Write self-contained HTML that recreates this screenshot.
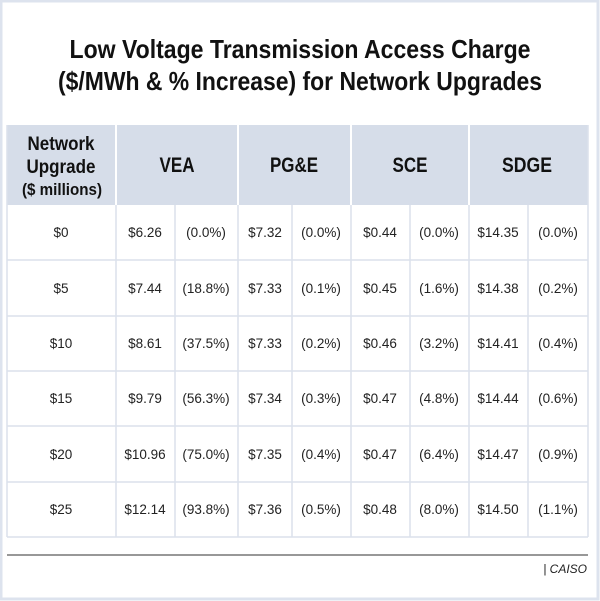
<!DOCTYPE html>
<html><head><meta charset="utf-8"><style>
html,body{margin:0;padding:0;background:#fff}
svg{display:block}
</style></head><body>
<svg width="600" height="601" xmlns="http://www.w3.org/2000/svg" font-family="Liberation Sans, sans-serif">
<rect x="1" y="1" width="597" height="598" fill="#fff" stroke="#dde3ee" stroke-width="3"/>
<text x="300" y="58" text-anchor="middle" font-size="26" font-weight="bold" fill="#111" textLength="461" lengthAdjust="spacingAndGlyphs">Low Voltage Transmission Access Charge</text>
<text x="300" y="90" text-anchor="middle" font-size="26" font-weight="bold" fill="#111" textLength="484" lengthAdjust="spacingAndGlyphs">($/MWh &amp; % Increase) for Network Upgrades</text>
<rect x="7" y="125" width="581" height="80" fill="#d6dde9"/>
<g stroke="#dbe1ec" stroke-width="1.5">
<line x1="7" y1="125" x2="7" y2="537"/><line x1="588" y1="125" x2="588" y2="537"/>
<line x1="116" y1="125" x2="116" y2="537"/><line x1="238" y1="125" x2="238" y2="537"/>
<line x1="351" y1="125" x2="351" y2="537"/><line x1="469" y1="125" x2="469" y2="537"/>
<line x1="175" y1="205" x2="175" y2="537"/><line x1="292" y1="205" x2="292" y2="537"/>
<line x1="410" y1="205" x2="410" y2="537"/><line x1="528" y1="205" x2="528" y2="537"/>
<line x1="7" y1="260" x2="588" y2="260"/><line x1="7" y1="316" x2="588" y2="316"/>
<line x1="7" y1="371" x2="588" y2="371"/><line x1="7" y1="426" x2="588" y2="426"/>
<line x1="7" y1="482" x2="588" y2="482"/><line x1="7" y1="537" x2="588" y2="537"/>
</g>
<g stroke="#fff" stroke-width="2"><line x1="116" y1="125" x2="116" y2="205"/><line x1="238" y1="125" x2="238" y2="205"/><line x1="351" y1="125" x2="351" y2="205"/><line x1="469" y1="125" x2="469" y2="205"/></g>
<g font-weight="bold" fill="#111" text-anchor="middle" lengthAdjust="spacingAndGlyphs">
<text x="61" y="150" font-size="19" textLength="67" lengthAdjust="spacingAndGlyphs">Network</text>
<text x="61" y="173" font-size="19" textLength="69" lengthAdjust="spacingAndGlyphs">Upgrade</text>
<text x="62" y="195" font-size="17" textLength="80" lengthAdjust="spacingAndGlyphs">($ millions)</text>
<text x="177" y="172" font-size="21" textLength="35" lengthAdjust="spacingAndGlyphs">VEA</text>
<text x="294" y="172" font-size="21" textLength="48" lengthAdjust="spacingAndGlyphs">PG&amp;E</text>
<text x="410" y="172" font-size="21" textLength="35" lengthAdjust="spacingAndGlyphs">SCE</text>
<text x="527" y="172" font-size="21" textLength="50" lengthAdjust="spacingAndGlyphs">SDGE</text>
</g>
<g font-size="13.5" fill="#222" text-anchor="middle">
<g transform="translate(0,237)"><text x="61">$0</text><text x="145">$6.26</text><text x="206">(0.0%)</text><text x="265">$7.32</text><text x="321">(0.0%)</text><text x="380">$0.44</text><text x="439">(0.0%)</text><text x="498">$14.35</text><text x="558">(0.0%)</text></g>
<g transform="translate(0,293)"><text x="61">$5</text><text x="145">$7.44</text><text x="206">(18.8%)</text><text x="265">$7.33</text><text x="321">(0.1%)</text><text x="380">$0.45</text><text x="439">(1.6%)</text><text x="498">$14.38</text><text x="558">(0.2%)</text></g>
<g transform="translate(0,348)"><text x="61">$10</text><text x="145">$8.61</text><text x="206">(37.5%)</text><text x="265">$7.33</text><text x="321">(0.2%)</text><text x="380">$0.46</text><text x="439">(3.2%)</text><text x="498">$14.41</text><text x="558">(0.4%)</text></g>
<g transform="translate(0,403)"><text x="61">$15</text><text x="145">$9.79</text><text x="206">(56.3%)</text><text x="265">$7.34</text><text x="321">(0.3%)</text><text x="380">$0.47</text><text x="439">(4.8%)</text><text x="498">$14.44</text><text x="558">(0.6%)</text></g>
<g transform="translate(0,459)"><text x="61">$20</text><text x="145">$10.96</text><text x="206">(75.0%)</text><text x="265">$7.35</text><text x="321">(0.4%)</text><text x="380">$0.47</text><text x="439">(6.4%)</text><text x="498">$14.47</text><text x="558">(0.9%)</text></g>
<g transform="translate(0,514)"><text x="61">$25</text><text x="145">$12.14</text><text x="206">(93.8%)</text><text x="265">$7.36</text><text x="321">(0.5%)</text><text x="380">$0.48</text><text x="439">(8.0%)</text><text x="498">$14.50</text><text x="558">(1.1%)</text></g>
</g>
<line x1="7" y1="555" x2="588" y2="555" stroke="#777" stroke-width="1.5"/>
<text x="587" y="573" text-anchor="end" font-size="12" font-style="italic" fill="#222">| CAISO</text>
</svg>
</body></html>
